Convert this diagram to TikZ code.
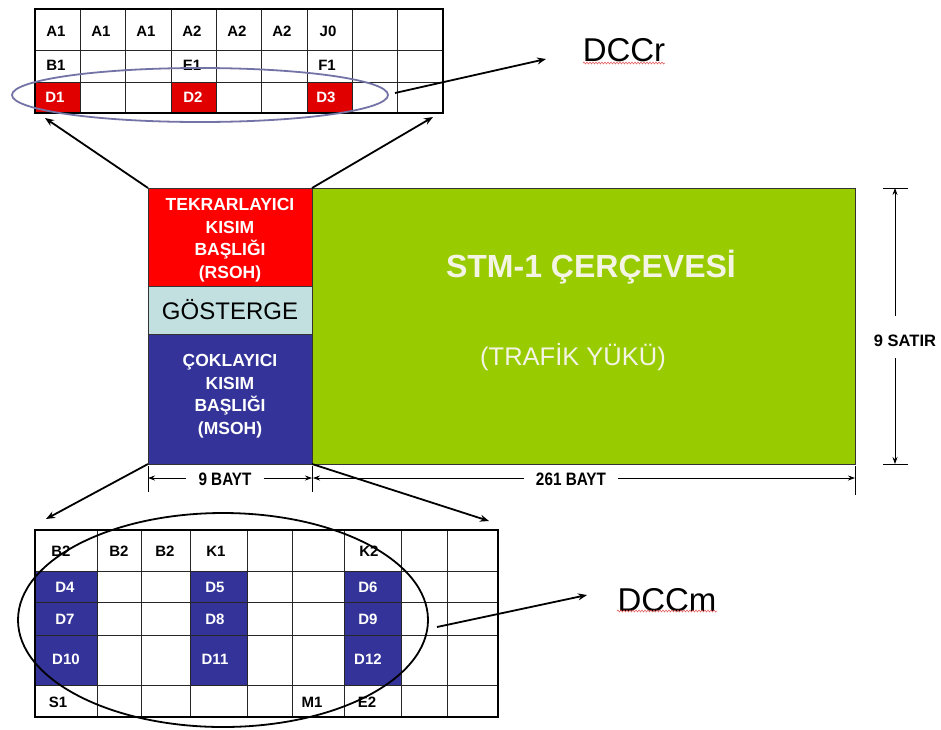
\documentclass[tikz,border=0pt]{standalone}
\usepackage{fontspec}
\setmainfont{Liberation Sans}
\newfontfamily\narrowfont[FakeStretch=0.85]{Liberation Sans}
\usetikzlibrary{arrows.meta,decorations.pathmorphing,shapes.geometric}
\definecolor{rsohred}{HTML}{FF0000}
\definecolor{cellred}{HTML}{E00000}
\definecolor{gostblue}{HTML}{C2E0E0}
\definecolor{msohblue}{HTML}{333399}
\definecolor{stmgreen}{HTML}{99CC00}
\definecolor{ellpurple}{HTML}{7373A6}
\definecolor{wavyred}{HTML}{E05050}
\definecolor{cream}{HTML}{F4F4E4}
\begin{document}
\begin{tikzpicture}[x=1pt,y=-1pt,
  cell/.style={font=\bfseries\fontsize{15}{15}\selectfont, inner sep=0pt},
  wcell/.style={cell, text=white},
  grid/.style={line width=0.9pt, black!85},
  frame/.style={draw, line width=2pt, inner sep=0pt, outer sep=0pt},
  block/.style={draw=black!80, line width=0.8pt, inner sep=0pt, outer sep=0pt, align=center},
  blocktext/.style={text=white, font=\bfseries\fontsize{17.5}{22.5}\selectfont, align=center, inner sep=0pt},
  conn/.style={line width=1.8pt, -{Stealth[length=9pt,width=7pt]}},
  dimline/.style={line width=0.8pt},
  dimarr/.style={line width=0.8pt, -{Stealth[length=7pt,width=5pt]}},
  dimtext/.style={font=\narrowfont\bfseries\fontsize{18}{18}\selectfont, inner xsep=12pt, inner ysep=2pt},
  dcc/.style={font=\fontsize{33}{33}\selectfont, inner sep=0pt},
  wavy/.style={draw=wavyred, line width=0.5pt, decorate, decoration={snake, amplitude=1pt, segment length=3pt}}
]
\fill[white] (0,0) rectangle (941,729);
\useasboundingbox (0,0) rectangle (941,729);

% ---------- top table (RSOH bytes)
\foreach \c in {0,3,6} \fill[cellred] ({35+45.33*\c},82) rectangle ({35+45.33*(\c+1)},113);
\foreach \c in {1,...,8} \draw[grid] ({35+45.33*\c},9) -- ({35+45.33*\c},113);
\foreach \r in {50,82} \draw[grid] (35,\r) -- (443,\r);
\node[frame, minimum width=408pt, minimum height=104pt] (toptab) at (239,61) {};

\node[cell] (ta1) at (56,31) {A1};
\node[cell] (ta2) at (101,31) {A1};
\node[cell] (ta3) at (146,31) {A1};
\node[cell] (ta4) at (192,31) {A2};
\node[cell] (ta5) at (237,31) {A2};
\node[cell] (ta6) at (282,31) {A2};
\node[cell] (tj0) at (328,31) {J0};
\node[cell] (tb1) at (56,65) {B1};
\node[cell] (te1) at (192,65) {E1};
\node[cell] (tf1) at (327,65) {F1};
\node[wcell] (td1) at (55,97) {D1};
\node[wcell] (td2) at (193,97) {D2};
\node[wcell] (td3) at (326,97) {D3};

\node[draw=ellpurple, line width=1.8pt, ellipse, minimum width=376pt, minimum height=54pt, inner sep=0pt] (ellr) at (200,95) {};

% DCCr
\node[dcc] (dccr) at (624,50) {DCCr};
\draw[wavy] (583,63) -- (665,63);
\coordinate (dccrs) at (395,93);
\coordinate (dccre) at (546,59);
\draw[conn] (dccrs) -- (dccre);

% ---------- central frame
\node[block, fill=rsohred, minimum width=164pt, minimum height=98pt] (rsoh) at (230,237) {};
\node[blocktext] (rsohtxt) at (230,240) {TEKRARLAYICI\\KISIM\\BAŞLIĞI\\(RSOH)};
\node[block, fill=gostblue, minimum width=164pt, minimum height=48pt, font=\fontsize{24}{24}\selectfont] (gost) at (230,310) {GÖSTERGE};
\node[block, fill=msohblue, minimum width=164pt, minimum height=130pt] (msoh) at (230,399) {};
\node[blocktext] (msohtxt) at (230,396) {ÇOKLAYICI\\KISIM\\BAŞLIĞI\\(MSOH)};
\node[block, fill=stmgreen, minimum width=543pt, minimum height=276pt] (stm) at (583.5,326) {};
\node[text=cream, font=\bfseries\fontsize{32}{32}\selectfont, inner sep=0pt] (stmtitle) at (591,267) {STM-1 ÇERÇEVESİ};
\node[text=cream, font=\fontsize{25.5}{25.5}\selectfont, inner sep=0pt] (trafik) at (573,357) {(TRAFİK YÜKÜ)};

% connectors to tables
\coordinate (tl) at (45,118);
\coordinate (tr) at (433,117);
\coordinate (bl) at (46,519);
\coordinate (br) at (489,521);
\draw[conn] (rsoh.north west) -- (tl);
\draw[conn] (rsoh.north east) -- (tr);
\draw[conn] (msoh.south west) -- (bl);
\draw[conn] (msoh.south east) -- (br);

% ---------- dimensions
\draw[dimline] (148,466) -- (148,492);
\draw[dimline] (312,466) -- (312,492);
\draw[dimline] (855,466) -- (855,495);
\coordinate (d0) at (148,478);
\coordinate (d1) at (312,478);
\coordinate (d1b) at (313,478);
\coordinate (d2) at (855,478);
\node[dimtext] (b9) at (225,479) {9 BAYT};
\node[dimtext] (b261) at (571,479) {261 BAYT};
\draw[dimarr] (b9.west |- d0) -- (d0);
\draw[dimarr] (b9.east |- d0) -- (d1);
\draw[dimarr] (b261.west |- d0) -- (d1b);
\draw[dimarr] (b261.east |- d0) -- (d2);

\draw[dimline] (883,188) -- (908,188);
\draw[dimline] (883,464) -- (908,464);
\coordinate (s0) at (895,188);
\coordinate (s1) at (895,464);
\coordinate (s0g) at (895,316);
\coordinate (s1g) at (895,358);
\node[font=\bfseries\fontsize{16.5}{16.5}\selectfont, inner sep=0pt] (satir) at (905,341) {9 SATIR};
\draw[dimarr] (s0g) -- (s0);
\draw[dimarr] (s1g) -- (s1);

% ---------- bottom table (MSOH bytes)
\foreach \xa/\xb in {35/97,190/247,344/401} \fill[msohblue] (\xa,571) rectangle (\xb,685);
\foreach \c in {97,141,190,247,292,344,401,447} \draw[grid] (\c,530) -- (\c,717);
\foreach \r in {571,602,635,685} \draw[grid] (35,\r) -- (498,\r);
\node[frame, minimum width=463pt, minimum height=187pt] (bottab) at (266.5,623.5) {};

\node[cell] (bb1) at (61,551) {B2};
\node[cell] (bb2) at (119,551) {B2};
\node[cell] (bb3) at (165,551) {B2};
\node[cell] (bk1) at (216,551) {K1};
\node[cell] (bk2) at (369,551) {K2};
\node[wcell] (bd4) at (65,587) {D4};
\node[wcell] (bd5) at (215,587) {D5};
\node[wcell] (bd6) at (368,587) {D6};
\node[wcell] (bd7) at (65,619) {D7};
\node[wcell] (bd8) at (215,619) {D8};
\node[wcell] (bd9) at (368,619) {D9};
\node[wcell] (bd10) at (66,659) {D10};
\node[wcell] (bd11) at (215,659) {D11};
\node[wcell] (bd12) at (368,659) {D12};
\node[cell] (bs1) at (58,702) {S1};
\node[cell] (bm1) at (312,702) {M1};
\node[cell] (be2) at (367,702) {E2};

\node[draw=black, line width=1.8pt, ellipse, minimum width=410pt, minimum height=214pt, inner sep=0pt] (ellm) at (223,620) {};

% DCCm
\node[dcc] (dccm) at (667,600) {DCCm};
\draw[wavy] (617,611) -- (717,611);
\coordinate (dccms) at (437,627);
\coordinate (dccme) at (587,595);
\draw[conn] (dccms) -- (dccme);
\end{tikzpicture}
\end{document}
